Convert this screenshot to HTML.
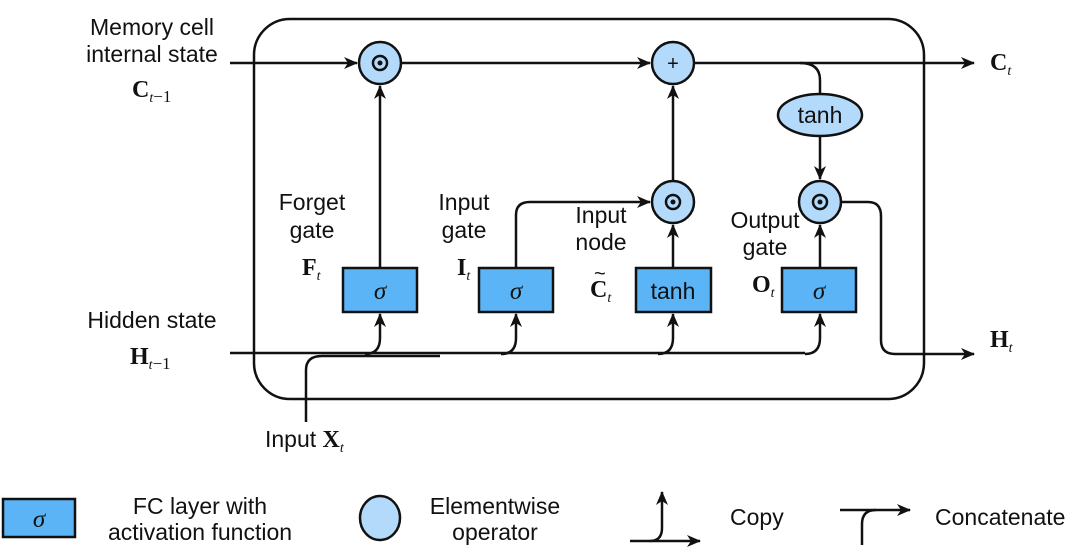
<!DOCTYPE html>
<html><head><meta charset="utf-8"><style>
html,body{margin:0;padding:0;background:#fff;}
svg{display:block;}
text{font-family:"Liberation Sans",sans-serif;font-size:23px;fill:#111;}
.m{font-family:"Liberation Serif",serif;font-weight:bold;font-size:24px;}
.s{font-family:"Liberation Serif",serif;font-style:italic;font-size:14px;font-weight:normal;}
.n{font-family:"Liberation Serif",serif;font-size:17px;font-weight:normal;}
.g{font-family:"Liberation Serif",serif;font-style:italic;font-size:25px;}
</style></head><body>
<svg width="1084" height="560" viewBox="0 0 1084 560" xmlns="http://www.w3.org/2000/svg">
<defs>
<marker id="a" markerWidth="14" markerHeight="12" refX="13" refY="6" orient="auto" markerUnits="userSpaceOnUse">
<path d="M0,0 L14,6 L0,12 L4,6 Z" fill="#111"/></marker>
</defs>
<g stroke="#111" stroke-width="2.5" fill="none">
<rect x="254" y="19" width="670" height="380" rx="36"/>
<path d="M230,63 H357" marker-end="url(#a)"/>
<path d="M401,63 H650" marker-end="url(#a)"/>
<path d="M694,63 H974" marker-end="url(#a)"/>
<path d="M800,63 Q820,63 820,80 V94"/>
<path d="M820,136 V179" marker-end="url(#a)"/>
<path d="M380,268 V86" marker-end="url(#a)"/>
<path d="M673,181 V86" marker-end="url(#a)"/>
<path d="M673,268 V225" marker-end="url(#a)"/>
<path d="M820,268 V225" marker-end="url(#a)"/>
<path d="M516,268 V215 Q516,202 530,202 H650" marker-end="url(#a)"/>
<path d="M842,202 H868 Q881,202 881,216 V340 Q881,354 895,354 H974" marker-end="url(#a)"/>
<path d="M230,353 H805"/>
<path d="M306,422 V370 Q306,356 322,356 H440"/>
<path d="M365,354 Q380,354 380,338 V314" marker-end="url(#a)"/>
<path d="M501,354 Q516,354 516,338 V314" marker-end="url(#a)"/>
<path d="M658,354 Q673,354 673,338 V314" marker-end="url(#a)"/>
<path d="M805,354 Q820,354 820,338 V314" marker-end="url(#a)"/>
</g>
<g stroke="#111" stroke-width="2.5" fill="#b3d9fb">
<circle cx="380" cy="63" r="21"/>
<circle cx="673" cy="63" r="21"/>
<circle cx="673" cy="202" r="21"/>
<circle cx="820" cy="202" r="21"/>
<ellipse cx="820" cy="115" rx="42" ry="21"/>
</g>
<g stroke="#111" stroke-width="2.5" fill="#5ab4f5">
<rect x="343" y="268" width="74" height="44"/>
<rect x="479" y="268" width="74" height="44"/>
<rect x="636" y="268" width="75" height="44"/>
<rect x="782" y="268" width="74" height="44"/>
<rect x="3" y="499" width="72" height="38"/>
</g>
<g stroke="#111" stroke-width="2.5" fill="none">
<circle cx="380" cy="63" r="7"/><circle cx="673" cy="202" r="7"/><circle cx="820" cy="202" r="7"/>
</g>
<g fill="#111"><circle cx="380" cy="63" r="2.5"/><circle cx="673" cy="202" r="2.5"/><circle cx="820" cy="202" r="2.5"/></g>
<text x="673" y="70" text-anchor="middle" style="font-size:20px">+</text>
<text x="820" y="123" text-anchor="middle">tanh</text>
<text x="673" y="299" text-anchor="middle">tanh</text>
<text x="380" y="299" text-anchor="middle" class="g">σ</text>
<text x="516" y="299" text-anchor="middle" class="g">σ</text>
<text x="819" y="299" text-anchor="middle" class="g">σ</text>
<text x="39" y="527" text-anchor="middle" class="g">σ</text>
<text x="152" y="35" text-anchor="middle">Memory cell</text>
<text x="152" y="62" text-anchor="middle">internal state</text>
<text x="132" y="97" class="m">C<tspan class="s" dy="5">t</tspan><tspan class="n">−1</tspan></text>
<text x="152" y="328" text-anchor="middle">Hidden state</text>
<text x="130" y="364" class="m">H<tspan class="s" dy="5">t</tspan><tspan class="n">−1</tspan></text>
<text x="312" y="210" text-anchor="middle">Forget</text>
<text x="312" y="238" text-anchor="middle">gate</text>
<text x="302" y="275" class="m">F<tspan class="s" dy="5">t</tspan></text>
<text x="464" y="210" text-anchor="middle">Input</text>
<text x="464" y="238" text-anchor="middle">gate</text>
<text x="457" y="275" class="m">I<tspan class="s" dy="5">t</tspan></text>
<text x="601" y="223" text-anchor="middle">Input</text>
<text x="601" y="250" text-anchor="middle">node</text>
<text x="590" y="297" class="m">C<tspan class="s" dy="5">t</tspan></text>
<text x="594" y="280" style="font-size:20px">~</text>
<text x="765" y="228" text-anchor="middle">Output</text>
<text x="765" y="255" text-anchor="middle">gate</text>
<text x="752" y="292" class="m">O<tspan class="s" dy="5">t</tspan></text>
<text x="990" y="70" class="m">C<tspan class="s" dy="5">t</tspan></text>
<text x="990" y="347" class="m">H<tspan class="s" dy="5">t</tspan></text>
<text x="265" y="447">Input <tspan class="m">X</tspan><tspan class="s" dy="5">t</tspan></text>
<text x="200" y="514" text-anchor="middle">FC layer with</text>
<text x="200" y="540" text-anchor="middle">activation function</text>
<ellipse cx="380" cy="518" rx="20" ry="22" fill="#b3d9fb" stroke="#111" stroke-width="2.5"/>
<text x="495" y="514" text-anchor="middle">Elementwise</text>
<text x="495" y="540" text-anchor="middle">operator</text>
<g stroke="#111" stroke-width="2.5" fill="none">
<path d="M630,541 H700" marker-end="url(#a)"/>
<path d="M650,541 Q662,541 662,528 V492" marker-end="url(#a)"/>
<path d="M840,510 H910" marker-end="url(#a)"/>
<path d="M862,545 V524 Q862,510 876,510"/>
</g>
<text x="730" y="525">Copy</text>
<text x="935" y="525">Concatenate</text>
</svg>
</body></html>
